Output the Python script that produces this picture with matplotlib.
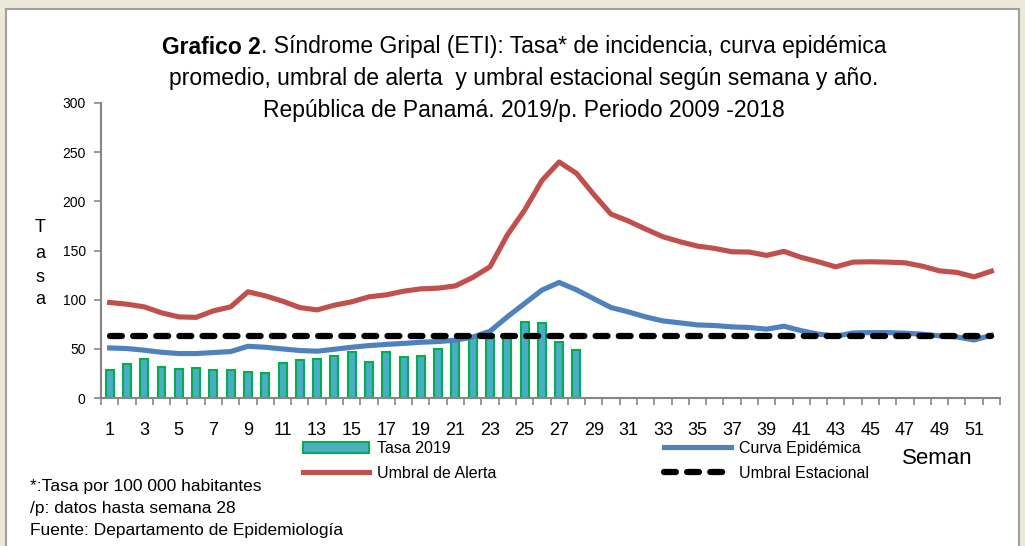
import matplotlib
matplotlib.use("Agg")
import matplotlib.pyplot as plt
from matplotlib.patches import Rectangle
import numpy as np

W, H = 1025, 546
weeks = list(range(1, 53))
tasa_2019 = [28, 34.5, 39.5, 31.5, 29.5, 30.8, 28, 28.4, 26.7, 25.3,
             36, 39, 39.4, 42.8, 46.6, 36.6, 46.9, 41.8, 42.6, 50,
             58, 61.4, 63.8, 62.8, 77.5, 76, 57, 48.5]
curva_epidemica = [50.9, 50.3, 48.6, 46.5, 45.2, 45.2, 46.2, 47.2, 52.6, 51.6,
                   49.9, 48.3, 47.6, 49.6, 51.6, 53.3, 54.5, 55.5, 56.7, 57.4,
                   58.8, 62, 67.9, 82.5, 96.1, 109.7, 117.5, 110, 101, 92,
                   87.6, 82.5, 78.4, 76.4, 74.3, 73.7, 72.3, 71.7, 70, 73,
                   68.5, 64.9, 62.8, 66.2, 66.5, 66.5, 65.9, 64.9, 63.2, 62.1,
                   59, 63.8]
umbral_alerta = [97.1, 95.4, 92.7, 86.6, 82.5, 82, 88.6, 92.7, 108, 103.9,
                 98.5, 92, 89.6, 94.4, 97.8, 102.9, 104.9, 108.6, 111, 111.7,
                 114, 122.6, 133.4, 165.7, 191, 221, 240, 228.5, 207, 187,
                 180, 171.8, 164, 158.9, 154.5, 152.1, 148.7, 148.4, 145, 149.1,
                 143, 138.5, 133.4, 138.2, 138.5, 138.2, 137.5, 134.1, 129.3, 127.7,
                 123.2, 129]
umbral_estacional = [63.5] * 52
xtick_labels = [str(w) for w in range(1, 53, 2)]
yticks = [0, 50, 100, 150, 200, 250, 300]

FONT = ['Liberation Sans', 'DejaVu Sans']
plt.rcParams['font.family'] = FONT

fig = plt.figure(figsize=(W / 100, H / 100), dpi=100)
fig.patch.set_facecolor('#ECE9D8')

def fx(x):
    return x / W

def fy(y):
    return 1 - y / H

# white panel
fig.patches.append(Rectangle((fx(6), fy(560)), fx(1019) - fx(6), fy(9) - fy(560),
                             transform=fig.transFigure, facecolor='white',
                             edgecolor='#A0A0A0', linewidth=1.5, zorder=-5))

ax = fig.add_axes([fx(101), fy(398), fx(1000) - fx(101), fy(103) - fy(398)])
ax.set_zorder(2)
ax.set_facecolor('none')

bars = ax.bar(weeks[:len(tasa_2019)], tasa_2019, width=0.46, color='#4BACC6',
              edgecolor='#00B050', linewidth=1.5, label='Tasa 2019', zorder=2)
l_curva, = ax.plot(weeks, curva_epidemica, color='#4F81BD', linewidth=3.7,
                   label='Curva Epidémica', zorder=3)
l_alerta, = ax.plot(weeks, umbral_alerta, color='#C0504D', linewidth=3.7,
                    label='Umbral de Alerta', zorder=3)
l_est, = ax.plot(weeks, umbral_estacional, color='black', linewidth=4.5,
                 linestyle=(0, (1.9, 1.8)), dash_capstyle='round',
                 label='Umbral Estacional', zorder=4)

ax.set_xlim(0.5, 52.5)
ax.set_ylim(0, 300)
for s in ['top', 'right']:
    ax.spines[s].set_visible(False)
for s in ['left', 'bottom']:
    ax.spines[s].set_color('#868686')
    ax.spines[s].set_linewidth(1.5)

ax.set_xticks(range(1, 53, 2))
ax.set_xticklabels(xtick_labels, fontsize=13)
ax.set_xticks(np.arange(0.5, 53, 1), minor=True)
ax.tick_params(axis='x', which='major', length=0, pad=17)
ax.tick_params(axis='x', which='minor', length=5, color='#868686', width=1.2)
ax.set_yticks(yticks)
ax.set_yticklabels([str(v) for v in yticks], fontsize=10)
ax.tick_params(axis='y', length=5, color='#868686', width=1.2, pad=6)

# y label stacked letters
for ch, yy in zip(['T', 'a', 's', 'a'], [227, 254, 277, 300]):
    fig.text(fx(40), fy(yy), ch, fontsize=13, ha='center', va='center')

# title lines
TS = 16.5
fig.canvas.draw()
renderer = fig.canvas.get_renderer()
t_bold = fig.text(0, fy(47), 'Grafico 2', fontsize=TS, fontweight='bold', va='center')
t_rest = fig.text(0, fy(47), '. Síndrome Gripal (ETI): Tasa* de incidencia, curva epidémica',
                  fontsize=TS, va='center')
wb = t_bold.get_window_extent(renderer).width
wr = t_rest.get_window_extent(renderer).width
x0 = 524 - (wb + wr) / 2
t_bold.set_x(fx(x0))
t_rest.set_x(fx(x0 + wb))
fig.text(fx(524), fy(79), 'promedio, umbral de alerta  y umbral estacional según semana y año.',
         fontsize=TS, ha='center', va='center')
fig.text(fx(524), fy(111), 'República de Panamá. 2019/p. Periodo 2009 -2018',
         fontsize=TS, ha='center', va='center')

# legend
leg = fig.legend(handles=[bars, l_alerta, l_curva, l_est], ncol=2,
                 loc='upper left', bbox_to_anchor=(fx(303), fy(441)),
                 frameon=False, fontsize=11.5, handlelength=4.15,
                 handletextpad=0.5, columnspacing=10.5, labelspacing=0.62,
                 borderpad=0, borderaxespad=0)

fig.text(fx(902), fy(458), 'Seman', fontsize=16, va='center')

notes = ['*:Tasa por 100 000 habitantes', '/p: datos hasta semana 28',
         'Fuente: Departamento de Epidemiología']
for txt, yy in zip(notes, [486, 508, 531]):
    fig.text(fx(30), fy(yy), txt, fontsize=12.5, va='center')

fig.savefig('out.png', dpi=100, facecolor=fig.get_facecolor())
